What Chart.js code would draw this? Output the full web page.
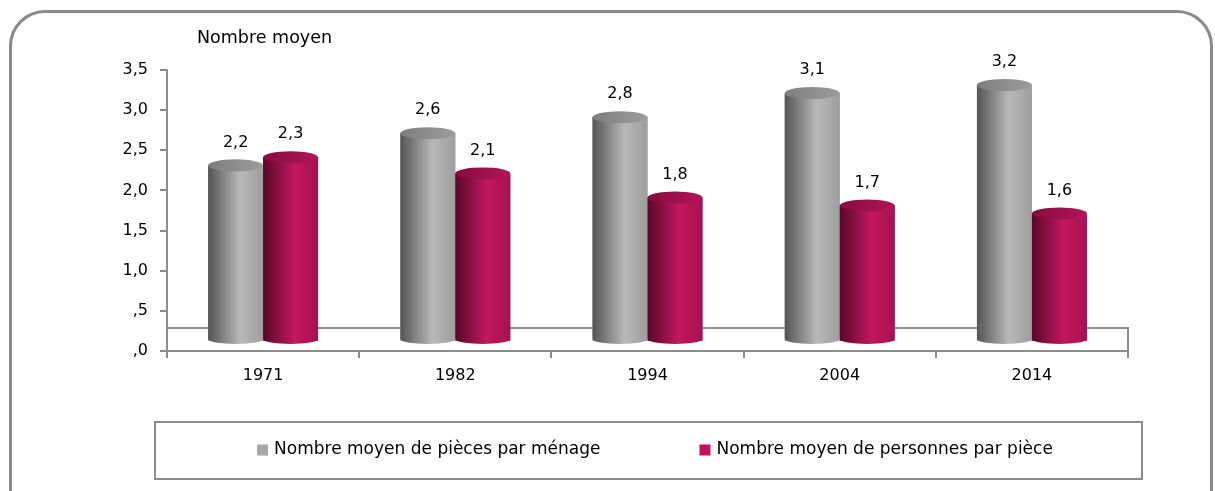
<!DOCTYPE html>
<html>
<head>
<meta charset="utf-8">
<script src="https://cdn.jsdelivr.net/npm/chart.js@4.4.0/dist/chart.umd.min.js"></script>
<style>
html, body { margin: 0; padding: 0; background: #fff; }
#wrap { position: relative; width: 1215px; height: 491px; overflow: hidden; }
#frame { position: absolute; left: 9px; top: 10px; width: 1198px; height: 540px; border: 3px solid #8a8a8a; border-radius: 36px; pointer-events: none; }
canvas { position: absolute; left: 0; top: 0; }
</style>
</head>
<body>
<div id="wrap">
	<div id="frame"></div>
	<canvas id="myChart" width="1215" height="491"></canvas>
</div>
<script>
const years = ['1971', '1982', '1994', '2004', '2014'];
const piecesParMenage = [2.2, 2.6, 2.8, 3.1, 3.2];
const personnesParPiece = [2.3, 2.1, 1.8, 1.7, 1.6];
const seriesNames = ['Nombre moyen de pièces par ménage', 'Nombre moyen de personnes par pièce'];
const yTickLabels = [',0', ',5', '1,0', '1,5', '2,0', '2,5', '3,0', '3,5'];
const yTitle = 'Nombre moyen';

const FONT = 'DejaVu Sans';
const AXIS = '#8c8c8c';

// shading for the cylinders: left dark -> light -> right edge, and the top cap
const palettes = [
	{ base: '#a6a6a6', dark: '#545454', light: '#b8b8b8', edge: '#9e9e9e', capL: '#7e7e7e', capR: '#9c9c9c' },
	{ base: '#c0135a', dark: '#570927', light: '#c4175e', edge: '#a51250', capL: '#860c3c', capR: '#b3145a' }
];

function fmt(v) {
	return v.toFixed(1).replace('.', ',');
}

function drawCylinder(ctx, x0, x1, top, base, pal) {
	const cx = (x0 + x1) / 2, rx = (x1 - x0) / 2, ry = 6;
	const g = ctx.createLinearGradient(x0, 0, x1, 0);
	g.addColorStop(0, pal.dark);
	g.addColorStop(0.58, pal.light);
	g.addColorStop(1, pal.edge);
	ctx.fillStyle = g;
	ctx.beginPath();
	ctx.moveTo(x0, top);
	ctx.lineTo(x0, base - 2);
	ctx.ellipse(cx, base - 2, rx, 5, 0, Math.PI, 0, true);
	ctx.lineTo(x1, top);
	ctx.closePath();
	ctx.fill();
	const gt = ctx.createLinearGradient(x0, 0, x1, 0);
	gt.addColorStop(0, pal.capL);
	gt.addColorStop(1, pal.capR);
	ctx.fillStyle = gt;
	ctx.beginPath();
	ctx.ellipse(cx, top, rx, ry, 0, 0, Math.PI * 2);
	ctx.fill();
}

const DEPTH = 9;

const cylinders = {
	id: 'cylinders',
	beforeDatasetsDraw(chart) {
		const { ctx, chartArea: a } = chart;
		// 3D floor
		ctx.save();
		ctx.strokeStyle = AXIS;
		ctx.lineWidth = 2;
		ctx.beginPath();
		ctx.moveTo(a.left, a.bottom - 23);
		ctx.lineTo(a.right, a.bottom - 23);
		ctx.lineTo(a.right, a.bottom);
		ctx.stroke();
		ctx.restore();
		ctx.save();
		ctx.translate(0, -DEPTH);
	},
	afterDatasetsDraw(chart) {
		const ctx = chart.ctx;
		chart.data.datasets.forEach((ds, di) => {
			const meta = chart.getDatasetMeta(di);
			meta.data.forEach(bar => {
				const { x, y, base, width } = bar.getProps(['x', 'y', 'base', 'width'], true);
				drawCylinder(ctx, x - width / 2, x + width / 2, y, base, palettes[di]);
			});
		});
		ctx.restore();
		// value labels
		ctx.save();
		ctx.fillStyle = '#000';
		ctx.font = '16px "' + FONT + '"';
		ctx.textAlign = 'center';
		ctx.textBaseline = 'middle';
		chart.data.datasets.forEach((ds, di) => {
			chart.getDatasetMeta(di).data.forEach((bar, i) => {
				ctx.fillText(fmt(ds.data[i]), bar.x, bar.y - DEPTH - 23);
			});
		});
		ctx.restore();
	},
	afterDraw(chart) {
		const ctx = chart.ctx;
		ctx.save();
		// axis title
		ctx.fillStyle = '#000';
		ctx.font = '17.5px "' + FONT + '"';
		ctx.textAlign = 'left';
		ctx.textBaseline = 'alphabetic';
		ctx.fillText(yTitle, 197, 43);
		// legend box
		ctx.strokeStyle = AXIS;
		ctx.lineWidth = 2;
		ctx.strokeRect(155, 422, 987, 57);
		ctx.font = '17px "' + FONT + '"';
		ctx.textBaseline = 'middle';
		const sq = 11, gapTxt = 6, gapItem = 99, cy = 450;
		const w = chart.data.datasets.map(ds => ctx.measureText(ds.label).width);
		let x = 655 - (sq * 2 + gapTxt * 2 + w[0] + w[1] + gapItem) / 2;
		chart.data.datasets.forEach((ds, di) => {
			ctx.fillStyle = palettes[di].base;
			ctx.fillRect(x, cy - sq / 2, sq, sq);
			ctx.fillStyle = '#000';
			ctx.fillText(ds.label, x + sq + gapTxt, cy);
			x += sq + gapTxt + w[di] + gapItem;
		});
		ctx.restore();
	}
};

let ctx = document.getElementById('myChart');

let chart = new Chart(ctx, {
	type: 'bar',
	data: {
		labels: years,
		datasets: [{
			label: seriesNames[0],
			data: piecesParMenage,
			backgroundColor: palettes[0].base,
			borderWidth: 0
		}, {
			label: seriesNames[1],
			data: personnesParPiece,
			backgroundColor: palettes[1].base,
			borderWidth: 0
		}]
	},
	options: {
		responsive: false,
		animation: false,
		devicePixelRatio: 1,
		datasets: {
			bar: { barPercentage: 1, categoryPercentage: 0.572 }
		},
		layout: { padding: { top: 70, right: 87, left: 0, bottom: 0 } },
		plugins: {
			legend: { display: false },
			tooltip: { enabled: false }
		},
		scales: {
			x: {
				grid: { drawOnChartArea: false, color: AXIS, lineWidth: 2, tickLength: 7, offset: true },
				border: { color: AXIS, width: 2 },
				ticks: { color: '#000', font: { family: FONT, size: 16 }, padding: 8 },
				afterFit: s => { s.height = 140; }
			},
			y: {
				min: 0,
				max: 3.5,
				ticks: {
					stepSize: 0.5,
					color: '#000',
					font: { family: FONT, size: 16 },
					padding: 12,
					callback: (v, i) => yTickLabels[i]
				},
				grid: { drawOnChartArea: false, color: AXIS, lineWidth: 2, tickLength: 7 },
				border: { color: AXIS, width: 2 },
				afterFit: s => { s.width = 167; }
			}
		}
	},
	plugins: [cylinders]
});
</script>
</body>
</html>
